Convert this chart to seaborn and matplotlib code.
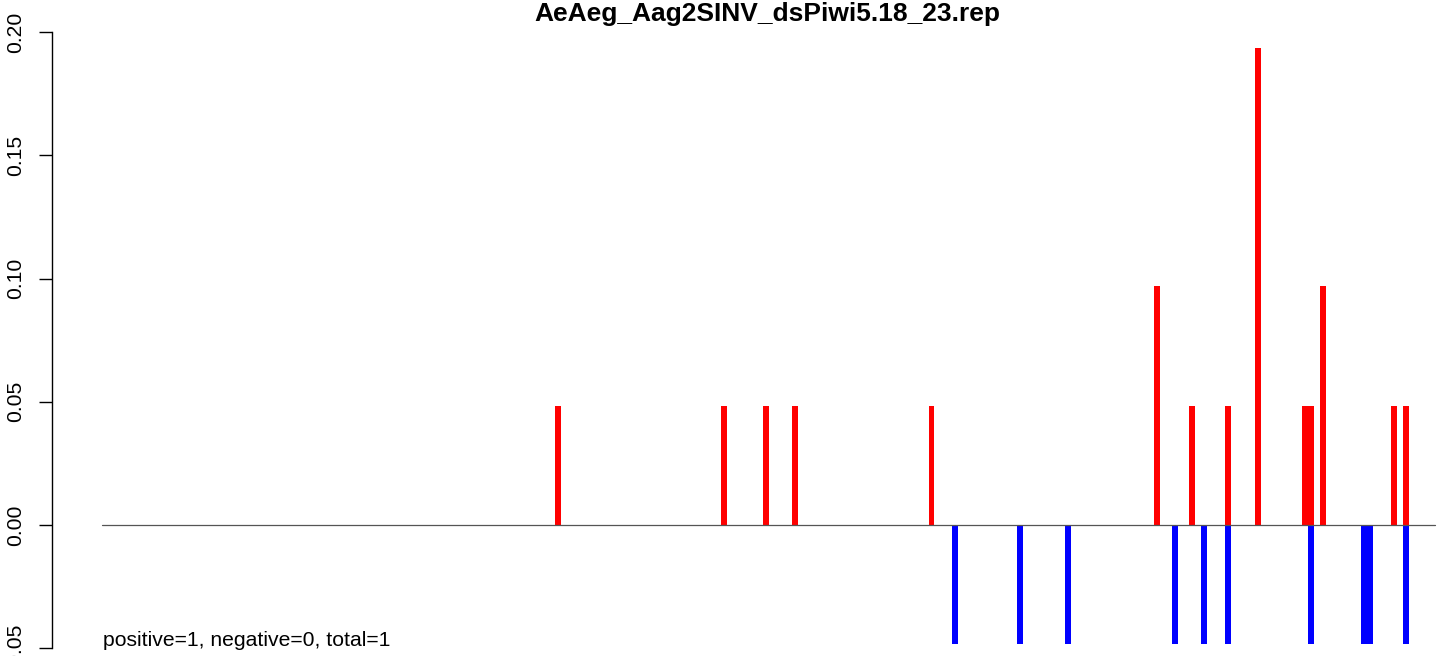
import matplotlib
matplotlib.use("Agg")
import matplotlib.pyplot as plt
import seaborn as sns

# read-count profile along the repeat (position index, normalised value)
pos_plus = [77, 105, 112, 117, 140, 178, 184, 190, 195, 203, 204, 206, 218, 220]
val_plus = [0.0484, 0.0484, 0.0484, 0.0484, 0.0484, 0.0968, 0.0484, 0.0484,
            0.1935, 0.0484, 0.0484, 0.0968, 0.0484, 0.0484]
pos_minus = [144, 155, 163, 181, 186, 190, 204, 213, 214, 220]
val_minus = [-0.0484] * 10

seq_start, seq_end = 0, 225
yticks = [-0.05, 0.00, 0.05, 0.10, 0.15, 0.20]
ytick_labels = ["-0.05", "0.00", "0.05", "0.10", "0.15", "0.20"]
title = "AeAeg_Aag2SINV_dsPiwi5.18_23.rep"
note = "positive=1, negative=0, total=1"

sns.set_style("white")
plt.rcParams["font.family"] = ["Liberation Sans", "DejaVu Sans"]
plt.rcParams["text.color"] = "black"

W, H = 1444, 656
fig = plt.figure(figsize=(W / 100, H / 100), dpi=100)
ax = fig.add_axes([52 / W, 0, 1 - 52 / W, 1])

sns.barplot(x=pos_plus, y=val_plus, native_scale=True, width=1, color="#ff0000",
            saturation=1, linewidth=0, errorbar=None, ax=ax)
sns.barplot(x=pos_minus, y=val_minus, native_scale=True, width=1, color="#0000ff",
            saturation=1, linewidth=0, errorbar=None, ax=ax)
ax.plot([seq_start, seq_end], [0, 0], color="#555555", lw=0.9, zorder=5)

# pixel -> data mapping of the original R device
px_per_unit = 5.928
x0_px = 101.6
ax.set_xlim((52 - x0_px) / px_per_unit, (W - x0_px) / px_per_unit)
y_per_px = 0.05 / 123.25
ax.set_ylim(-(H - 525) * y_per_px, 525 * y_per_px)

for s in ["top", "right", "bottom"]:
    ax.spines[s].set_visible(False)
ax.spines["left"].set_bounds(yticks[0], yticks[-1])
ax.spines["left"].set_linewidth(1.0)
ax.spines["left"].set_color("black")
ax.set_xticks([])
ax.set_yticks(yticks)
ax.set_yticklabels(ytick_labels, rotation=90, va="center")
ax.tick_params(axis="y", direction="out", length=9.1, width=1.0, pad=10,
               labelsize=15.2, colors="black", labelcolor="black", left=True)
ax.set_xlabel("")
ax.set_ylabel("")

fig.text(767 / W, 1 - 21 / H, title, ha="center", va="baseline",
         fontsize=19, fontweight="bold", color="black")
fig.text(103 / W, 1 - 646 / H, note, ha="left", va="baseline", fontsize=15.2,
         color="black")

fig.savefig("out.png", dpi=100)
